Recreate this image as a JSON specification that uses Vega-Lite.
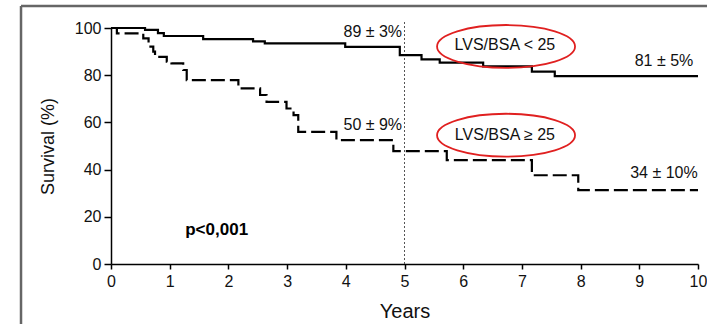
{
  "$schema": "https://vega.github.io/schema/vega-lite/v6.json",
  "width": 587,
  "height": 236,
  "autosize": {"type": "none"},
  "padding": {"left": 111, "top": 28, "right": 9, "bottom": 60},
  "background": "white",
  "config": {"view": {"stroke": null}, "font": "Liberation Sans"},
  "datasets": {
    "km": [
      {"g": "lt25", "x": 0, "y": 100}, {"g": "lt25", "x": 0.58, "y": 99.2}, {"g": "lt25", "x": 0.8, "y": 97.8},
      {"g": "lt25", "x": 0.9, "y": 96.6}, {"g": "lt25", "x": 1.57, "y": 95.3}, {"g": "lt25", "x": 2.42, "y": 94.3},
      {"g": "lt25", "x": 2.62, "y": 93.5}, {"g": "lt25", "x": 3.99, "y": 92.0}, {"g": "lt25", "x": 4.92, "y": 88.5},
      {"g": "lt25", "x": 5.29, "y": 86.7}, {"g": "lt25", "x": 5.6, "y": 85.3}, {"g": "lt25", "x": 6.34, "y": 83.7},
      {"g": "lt25", "x": 7.17, "y": 81.5}, {"g": "lt25", "x": 7.56, "y": 79.6}, {"g": "lt25", "x": 10, "y": 79.6},
      {"g": "ge25", "x": 0, "y": 100}, {"g": "ge25", "x": 0.1, "y": 97.7}, {"g": "ge25", "x": 0.55, "y": 95.6},
      {"g": "ge25", "x": 0.64, "y": 92.1}, {"g": "ge25", "x": 0.72, "y": 90.0}, {"g": "ge25", "x": 0.75, "y": 87.8},
      {"g": "ge25", "x": 0.95, "y": 85.7}, {"g": "ge25", "x": 1.03, "y": 85.0}, {"g": "ge25", "x": 1.23, "y": 82.2},
      {"g": "ge25", "x": 1.29, "y": 77.9}, {"g": "ge25", "x": 2.17, "y": 74.4}, {"g": "ge25", "x": 2.54, "y": 71.6},
      {"g": "ge25", "x": 2.65, "y": 68.7}, {"g": "ge25", "x": 2.99, "y": 65.9}, {"g": "ge25", "x": 3.11, "y": 63.1},
      {"g": "ge25", "x": 3.19, "y": 56.0}, {"g": "ge25", "x": 3.84, "y": 52.5}, {"g": "ge25", "x": 4.81, "y": 47.8},
      {"g": "ge25", "x": 5.72, "y": 44.0}, {"g": "ge25", "x": 7.17, "y": 37.6}, {"g": "ge25", "x": 7.96, "y": 31.3},
      {"g": "ge25", "x": 10, "y": 31.3}
    ],
    "frame": [
      {"x": -1.533, "y": 109.3, "x2": 11, "y2": 109.3},
      {"x": -1.533, "y": 109.3, "x2": -1.533, "y2": -30}
    ],
    "ref": [{"x": 5, "y": 0, "y2": 103}],
    "labels": [
      {"x": 4.46, "y": 98.4, "text": "89 ± 3%"},
      {"x": 4.46, "y": 58.8, "text": "50 ± 9%"},
      {"x": 9.42, "y": 86.0, "text": "81 ± 5%"},
      {"x": 9.42, "y": 38.4, "text": "34 ± 10%"},
      {"x": 6.71, "y": 92.6, "text": "LVS/BSA  < 25"},
      {"x": 6.71, "y": 54.6, "text": "LVS/BSA  ≥ 25"}
    ],
    "pval": [{"x": 1.8, "y": 14.3, "text": "p<0,001"}],
    "ovals": [{"x": 6.73, "y": 92.2}, {"x": 6.73, "y": 54.6}]
  },
  "encoding": {
    "x": {
      "field": "x", "type": "quantitative",
      "scale": {"domain": [0, 10], "nice": false, "zero": false},
      "axis": {
        "title": "Years", "values": [0,1,2,3,4,5,6,7,8,9,10], "grid": false,
        "domainColor": "black", "domainWidth": 1.5, "tickColor": "black", "tickWidth": 1.5, "tickSize": 5,
        "labelFontSize": 16, "labelColor": "#111111", "labelPadding": 4, "labelFlush": false,
        "titleFontSize": 20, "titleFontWeight": "normal", "titleColor": "#111111", "titlePadding": 12
      }
    },
    "y": {
      "field": "y", "type": "quantitative",
      "scale": {"domain": [0, 100], "nice": false, "zero": false},
      "axis": {
        "title": "Survival (%)", "values": [0,20,40,60,80,100], "grid": false,
        "domainColor": "black", "domainWidth": 1.5, "tickColor": "black", "tickWidth": 1.5, "tickSize": 7,
        "labelFontSize": 16, "labelColor": "#111111", "labelPadding": 3, "labelFlush": false,
        "titleFontSize": 18, "titleFontWeight": "normal", "titleColor": "#111111", "titlePadding": 17
      }
    }
  },
  "layer": [
    {
      "data": {"name": "frame"},
      "mark": {"type": "rule", "color": "#666666", "strokeWidth": 2.5, "clip": false},
      "encoding": {"x2": {"field": "x2"}, "y2": {"field": "y2"}}
    },
    {
      "data": {"name": "ref"},
      "mark": {"type": "rule", "color": "#555555", "strokeWidth": 1, "strokeDash": [2, 2]},
      "encoding": {"y2": {"field": "y2"}}
    },
    {
      "data": {"name": "km"},
      "mark": {"type": "line", "interpolate": "step-after", "color": "black", "strokeWidth": 2.2},
      "encoding": {
        "detail": {"field": "g"},
        "strokeDash": {"field": "g", "type": "nominal", "scale": {"domain": ["lt25", "ge25"], "range": [[1, 0], [14, 5]]}, "legend": null}
      }
    },
    {
      "data": {"name": "labels"},
      "mark": {"type": "text", "fontSize": 16, "color": "#111111", "align": "center", "baseline": "middle"},
      "encoding": {"text": {"field": "text"}}
    },
    {
      "data": {"name": "pval"},
      "mark": {"type": "text", "fontSize": 17, "fontWeight": "bold", "color": "black", "align": "center", "baseline": "middle"},
      "encoding": {"text": {"field": "text"}}
    },
    {
      "data": {"name": "ovals"},
      "mark": {"type": "point", "shape": "M-1,0A1,0.31,0,1,1,1,0A1,0.31,0,1,1,-1,0Z", "size": 19044, "filled": false, "stroke": "#e02020", "strokeWidth": 1.8, "opacity": 1}
    }
  ]
}
